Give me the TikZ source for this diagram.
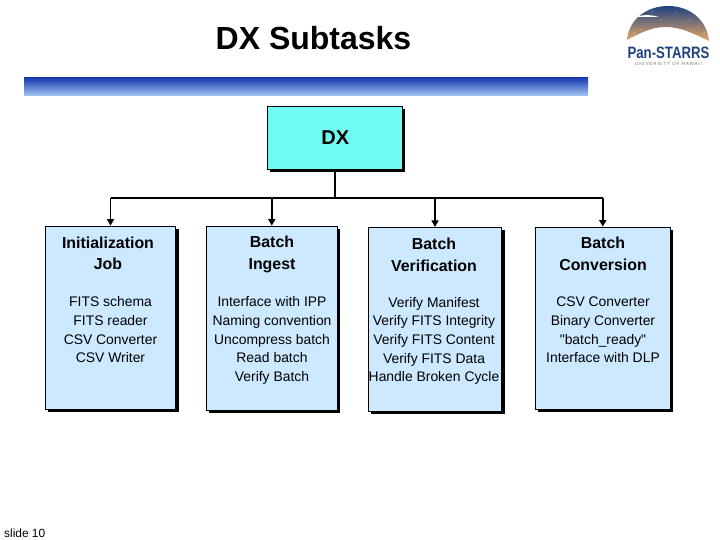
\documentclass[tikz,border=0pt]{standalone}
\usepackage{fontspec}
\usepackage{graphicx}
\setmainfont{Liberation Sans}
\newfontfamily\logosub[LetterSpace=18]{Liberation Sans}
\newfontfamily\plainquote{Liberation Sans}
\usetikzlibrary{shadows,arrows.meta}
\definecolor{dxfill}{HTML}{70FBF2}
\definecolor{subfill}{HTML}{CCE9FF}
\definecolor{logoblue}{HTML}{1F4280}
\definecolor{bandtop}{HTML}{1A3CB0}
\definecolor{bandbot}{HTML}{A8C8F5}
\definecolor{domemid}{HTML}{3F6FA8}
\definecolor{domelow}{HTML}{E8A868}
\tikzset{
  x=1pt,y=-1pt,
  hardshadow/.style={general shadow={shadow xshift=3pt,shadow yshift=-3pt,fill=black}},
  taskbox/.style={draw=black,line width=0.7pt,fill=subfill,hardshadow,inner sep=0pt},
  topbox/.style={draw=black,line width=0.7pt,fill=dxfill,hardshadow,inner sep=0pt,
    minimum width=135pt,minimum height=63pt,text width=129pt,align=center,font=\fontsize{20}{22}\selectfont\bfseries},
  heading/.style={inner sep=0pt,align=center,font=\fontsize{15.9}{21.5}\selectfont\bfseries},
  detail/.style={inner sep=0pt,align=center,font=\fontsize{13.9}{18.7}\selectfont},
  conn/.style={line width=1.6pt,draw=black},
  arrowconn/.style={conn,-{Triangle[length=6.5pt,width=7pt]}}
}
\begin{document}
\begin{tikzpicture}
\useasboundingbox (0,0) rectangle (720,540);
% title and band
\node[inner sep=0pt,font=\fontsize{32}{36}\selectfont\bfseries] (title) at (313.5,38) {DX Subtasks};
\shade[top color=bandtop,bottom color=bandbot] (24,78) rectangle (588,96);
% logo
\shade[top color=logoblue,middle color=domemid,bottom color=domelow]
  (627,40) .. controls (629,18) and (648,6) .. (668,6) .. controls (690,6) and (707,20) .. (709,41)
  .. controls (690,32) and (680,27) .. (665,27) .. controls (652,27) and (640,33) .. (627,40) -- cycle;
\fill[white] (635,17) .. controls (645,14) and (652,15) .. (659,17) .. controls (650,17) and (642,17) .. (635,17) -- cycle;
\foreach \sx/\sy in {640/30,652/12,676/13,690/20,698/27,682/22,661/20,704/33,634/33}
  \fill[white] (\sx,\sy) circle (0.5);
\node[inner sep=0pt,text=logoblue,font=\fontsize{16.5}{18}\selectfont\bfseries] (logotext) at (668.5,52.5) {\scalebox{.8}[1]{Pan-STARRS}};
\node[inner sep=0pt,text=black!55,font=\fontsize{4.6}{5}\selectfont\logosub] (logosub) at (668.5,64) {UNIVERSITY OF HAWAII};
% boxes
\node[topbox] (dx) at (334.5,138) {\hspace*{1.5pt}DX};
\node[taskbox,minimum width=130.5pt,minimum height=183pt] (b1) at (110.5,317.5) {};
\node[taskbox,minimum width=131pt,minimum height=184pt] (b2) at (271.8,318) {};
\node[taskbox,minimum width=133.4pt,minimum height=184pt] (b3) at (435,319.3) {};
\node[taskbox,minimum width=135pt,minimum height=182pt] (b4) at (602.8,318) {};
% connectors
\coordinate (bus) at (335,198);
\draw[conn] (dx.south -| bus) -- (bus);
\draw[conn] (b1.north |- bus) -- (b4.north |- bus);
\draw[arrowconn] (b1.north |- bus) -- (b1.north);
\draw[arrowconn] (b2.north |- bus) -- (b2.north);
\draw[arrowconn] (b3.north |- bus) -- (b3.north);
\draw[arrowconn] (b4.north |- bus) -- (b4.north);
% texts
\node[heading] (h1) at (108,253.3) {Initialization\\Job};
\node[heading] (h2) at (272,254.6) {Batch\\Ingest};
\node[heading] (h3) at (434,254.6) {Batch\\Verification};
\node[heading] (h4) at (603,253.6) {Batch\\Conversion};
\node[detail] (d1) at (110.5,329.7) {FITS schema\\FITS reader\\CSV Converter\\CSV Writer};
\node[detail] (d2) at (272,340.5) {Interface with IPP\\Naming convention\\Uncompress batch\\Read batch\\Verify Batch};
\node[detail] (d3) at (434,341) {Verify Manifest\\Verify FITS Integrity\\Verify FITS Content\\Verify FITS Data\\Handle Broken Cycle};
\node[detail] (d4) at (603,330) {CSV Converter\\Binary Converter\\{\plainquote "batch\_ready"}\\Interface with DLP};
\node[inner sep=0pt,anchor=west,font=\fontsize{11.9}{14}\selectfont] (slide) at (4,533) {slide 10};
\end{tikzpicture}
\end{document}
